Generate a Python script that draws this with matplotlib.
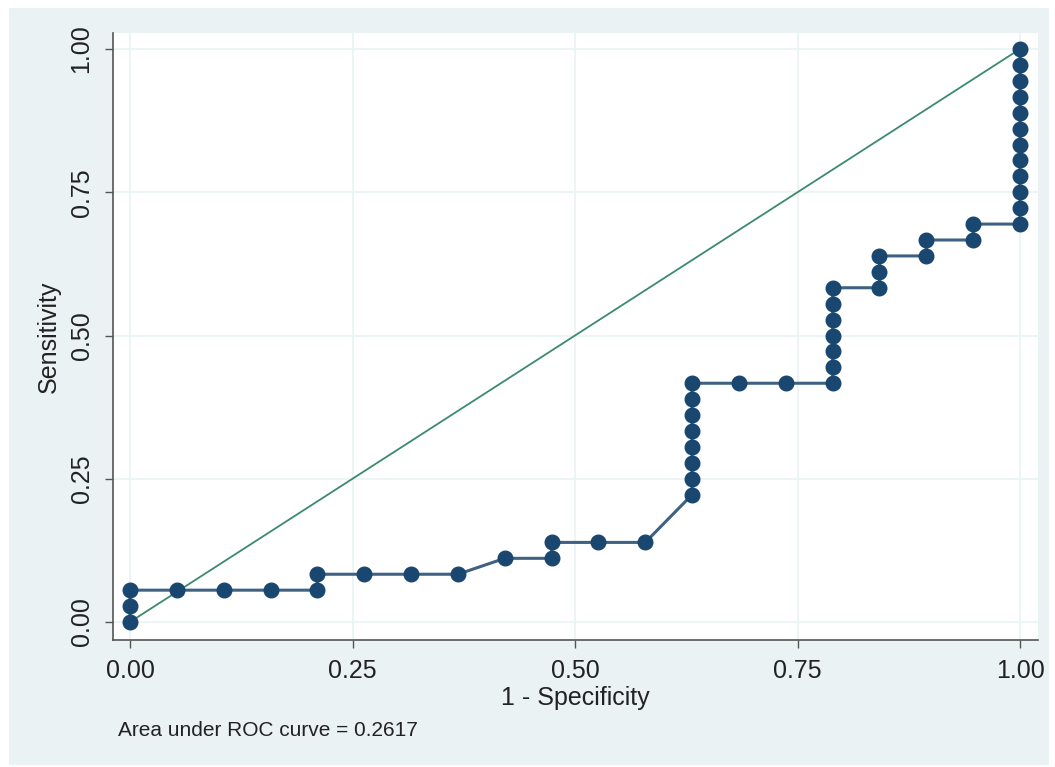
import matplotlib
matplotlib.use("Agg")
import matplotlib.pyplot as plt
from matplotlib.patches import Rectangle

# ROC points: x in steps of 1/19, y in steps of 1/36
x_steps = [0, 0, 0, 1, 2, 3, 4, 4, 5, 6, 7, 8, 9, 9, 10, 11,
           12, 12, 12, 12, 12, 12, 12, 12,
           13, 14, 15, 15, 15, 15, 15, 15, 15,
           16, 16, 16, 17, 17, 18, 18,
           19, 19, 19, 19, 19, 19, 19, 19, 19, 19, 19, 19]
y_steps = [0, 1, 2, 2, 2, 2, 2, 3, 3, 3, 3, 4, 4, 5, 5, 5,
           8, 9, 10, 11, 12, 13, 14, 15,
           15, 15, 15, 16, 17, 18, 19, 20, 21,
           21, 22, 23, 23, 24, 24, 25,
           25, 26, 27, 28, 29, 30, 31, 32, 33, 34, 35, 36]
spec = [v / 19 for v in x_steps]
sens = [v / 36 for v in y_steps]
ticks = [0, 0.25, 0.5, 0.75, 1.0]
tick_labels = ["0.00", "0.25", "0.50", "0.75", "1.00"]
auc_text = "Area under ROC curve = 0.2617"

plt.rcParams["font.family"] = ["Liberation Sans", "DejaVu Sans"]

bg = "#eaf2f3"
navy = "#1a476f"

W, H = 1055, 767
fig = plt.figure(figsize=(10.55, 7.67), dpi=100)
fig.patch.set_facecolor("white")
fig.patches.append(Rectangle((9 / W, 2 / H), 1040 / W, 757 / H,
                             transform=fig.transFigure, facecolor=bg,
                             edgecolor="none", zorder=-10))

ax = fig.add_axes([113 / W, 1 - 640 / H, (1038 - 113) / W, (640 - 33) / H])
ax.set_zorder(5)
ax.set_facecolor("white")
ax.set_xlim(-17 / 890, 1 + 18 / 890)
ax.set_ylim(-18 / 573, 1 + 16 / 573)

for s in ["top", "right"]:
    ax.spines[s].set_visible(False)
for s in ["left", "bottom"]:
    ax.spines[s].set_color("#555555")
    ax.spines[s].set_linewidth(1.2)

ax.set_xticks(ticks)
ax.set_xticklabels(tick_labels)
ax.set_yticks(ticks)
ax.set_yticklabels(tick_labels, rotation=90, va="center")
ax.tick_params(axis="both", length=6, width=1, color="#555555",
               labelsize=18, pad=8, labelcolor="#222222")
ax.grid(True, color=bg, linewidth=1.2)
ax.set_axisbelow(True)

ax.plot(spec, sens, color="#3f6282", linewidth=2.2, zorder=2)
ax.plot(spec, sens, linestyle="none", marker="o", markersize=10.5,
        color=navy, zorder=3)
ax.plot([0, 1], [0, 1], color="#3b8a6e", linewidth=1.3, zorder=2)

ax.set_xlabel("1 - Specificity", fontsize=18, labelpad=2, color="#222222")
ax.set_ylabel("Sensitivity", fontsize=18, labelpad=6, color="#222222")

fig.text(118 / W, 1 - 731 / H, auc_text, fontsize=15, va="center",
         color="#222222")

fig.savefig("out.png", dpi=100)
